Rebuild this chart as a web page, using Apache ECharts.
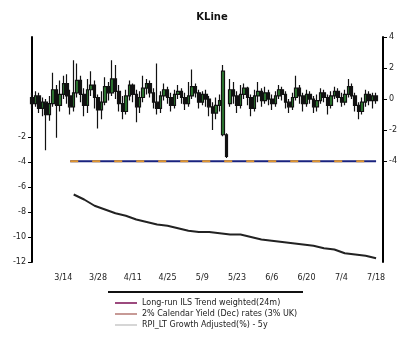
<!DOCTYPE html>
<html>
<head>
<meta charset="utf-8">
<script src="https://cdn.jsdelivr.net/npm/echarts@6/dist/echarts.min.js"></script>
<style>html,body{margin:0;padding:0;background:#fff}#c{width:400px;height:342px}</style>
</head>
<body>
<div id="c"></div>
<script>
const titleText = 'KLine';
const tickLabels = ['3/14','3/28','4/11','4/25','5/9','5/23','6/6','6/20','7/4','7/18'];
const leftTicks = [-2, -4, -6, -8, -10, -12];
const rightTicks = [4, 2, 0, -2, -4];
const seriesNames = ['Long-run ILS Trend weighted(24m)', '2% Calendar Yield (Dec) rates (3% UK)', 'RPI_LT Growth Adjusted(%) - 5y'];

const openV  = [0.1,-0.3,0.2,-0.6,-0.2,-1.0,-0.3,0.6,-0.4,0.3,1.0,0.2,-0.5,0.4,1.2,0.3,-0.4,0.6,0.9,0.1,-0.7,-0.2,0.8,0.4,1.3,0.5,-0.3,-0.8,0.2,0.9,0.3,-0.5,0.1,0.7,1.0,0.4,-0.2,-0.6,0.2,0.6,0.1,-0.4,0.3,0.5,0.1,-0.3,0.2,0.8,0.4,-0.2,0.3,0.0,-0.5,-0.9,-0.4,-2.3,-2.3,-0.3,0.6,0.2,-0.4,0.3,0.7,0.1,-0.6,0.2,0.5,-0.1,0.4,0.0,-0.3,0.2,0.6,0.3,-0.2,-0.5,0.1,0.7,0.2,-0.3,0.3,0.0,-0.5,-0.1,0.4,0.1,-0.4,0.2,0.5,0.1,-0.2,0.3,0.8,0.2,-0.4,-0.8,-0.2,0.3,-0.1,0.2];
const closeV = [-0.3,0.2,-0.6,-0.2,-1.0,-0.3,0.6,-0.4,0.3,1.0,0.2,-0.5,0.4,1.2,0.3,-0.4,0.6,0.9,0.1,-0.7,-0.2,0.8,0.4,1.3,0.5,-0.3,-0.8,0.2,0.9,0.3,-0.5,0.1,0.7,1.0,0.4,-0.2,-0.6,0.2,0.6,0.1,-0.4,0.3,0.5,0.1,-0.3,0.2,0.8,0.4,-0.2,0.3,0.0,-0.5,-0.9,-0.4,-0.1,1.8,-3.7,0.6,0.2,-0.4,0.3,0.7,0.1,-0.6,0.2,0.5,-0.1,0.4,0.0,-0.3,0.2,0.6,0.3,-0.2,-0.5,0.1,0.7,0.2,-0.3,0.3,0.0,-0.5,-0.1,0.4,0.1,-0.4,0.2,0.5,0.1,-0.2,0.3,0.8,0.2,-0.4,-0.8,-0.2,0.3,-0.1,0.2,-0.1];
const lowV   = [-0.6,-0.5,-0.9,-1.1,-3.3,-1.4,-0.5,-2.5,-0.8,0.0,-0.3,-1.0,-0.8,0.1,-0.2,-1.1,-0.9,0.2,-0.6,-1.9,-1.3,-0.4,-0.1,0.2,0.0,-0.8,-1.3,-1.0,-0.1,-0.2,-1.5,-0.9,-0.2,0.3,0.1,-0.6,-1.0,-0.9,-0.1,-0.3,-0.8,-0.6,0.0,-0.3,-0.7,-0.5,0.0,0.1,-0.6,-0.4,-0.5,-1.1,-2.0,-1.3,-0.8,-2.4,-3.8,-0.5,-0.3,-0.9,-0.6,0.0,-0.4,-1.1,-0.8,-0.2,-0.5,-0.3,-0.4,-0.7,-0.5,0.0,-0.1,-0.6,-0.9,-0.7,-0.1,-0.3,-0.8,-0.5,-0.3,-0.9,-0.8,-0.3,-0.2,-1.0,-0.6,0.0,-0.2,-0.5,-0.4,0.1,0.0,-0.8,-1.3,-1.0,-0.5,-0.4,-0.6,-0.3];
const highV  = [0.4,0.5,0.4,0.1,0.0,0.2,1.7,0.9,1.2,1.5,1.6,0.6,2.5,2.3,1.5,0.7,1.3,1.8,1.2,0.3,0.5,1.4,1.1,2.5,2.2,0.9,0.2,0.6,1.2,1.0,0.6,0.5,1.5,1.3,1.2,0.7,2.3,0.5,1.0,0.8,0.4,0.6,0.9,0.7,0.4,1.1,1.9,1.0,0.6,0.5,0.6,0.2,-0.2,0.1,0.3,2.2,-2.2,1.3,1.1,0.5,0.9,1.0,0.8,0.3,0.6,1.1,0.7,0.8,0.6,0.3,0.5,0.9,0.8,0.5,0.0,0.4,1.5,0.9,0.4,0.6,0.5,0.2,0.3,0.7,0.6,0.3,0.5,0.8,0.7,0.4,0.6,1.3,1.0,0.4,-0.2,0.1,0.6,0.5,0.4,0.4];

const flatStart = 11;
const flatVals = [-4,-4,-4,-4,-4,-4,-4,-4,-4,-4,-4,-4,-4,-4,-4,-4,-4,-4,-4,-4,-4,-4,-4,-4,-4,-4,-4,-4,-4,-4,-4,-4,-4,-4,-4,-4,-4,-4,-4,-4,-4,-4,-4,-4,-4,-4,-4,-4,-4,-4,-4,-4,-4,-4,-4,-4,-4,-4,-4,-4,-4,-4,-4,-4,-4,-4,-4,-4,-4,-4,-4,-4,-4,-4,-4,-4,-4,-4,-4,-4,-4,-4,-4,-4,-4,-4,-4,-4,-4];

const trendIdx  = [12,15,18,21,24,27,30,33,36,39,42,45,48,51,54,57,60,63,66,69,72,75,78,81,84,87,90,93,96,99];
const trendVals = [-6.6,-7.0,-7.5,-7.8,-8.1,-8.3,-8.6,-8.8,-9.0,-9.1,-9.3,-9.5,-9.6,-9.6,-9.7,-9.8,-9.8,-10.0,-10.2,-10.3,-10.4,-10.5,-10.6,-10.7,-10.9,-11.0,-11.3,-11.4,-11.5,-11.7];

const N = 102;
const categories = [];
for (let i = 0; i < N; i++) categories.push(String(i));

const candles = openV.map((o, i) => [o, closeV[i], lowV[i], highV[i]]);
const flatData = categories.map((c, i) => (i >= flatStart && i - flatStart < flatVals.length) ? flatVals[i - flatStart] : null);
const trendData = trendIdx.map((x, i) => [x, trendVals[i]]);

const chart = echarts.init(document.getElementById('c'), null, {renderer: 'canvas'});
chart.setOption({
  animation: false,
  backgroundColor: '#fff',
  title: {text: titleText, left: 207, top: 7, textAlign: 'center',
    textStyle: {fontSize: 10, fontWeight: 'bold', color: '#111', fontFamily: 'DejaVu Sans'}},
  grid: {left: 32, right: 15, top: 37, bottom: 80},
  legend: {
    orient: 'vertical', left: 110, top: 294, itemGap: 3, itemWidth: 22, itemHeight: 2,
    icon: 'rect', textStyle: {fontSize: 8, color: '#222', fontFamily: 'DejaVu Sans'},
    data: [
      {name: seriesNames[0], itemStyle: {color: '#9c4a7e'}},
      {name: seriesNames[1], itemStyle: {color: '#c79a96'}},
      {name: seriesNames[2], itemStyle: {color: '#d6d6d6'}}
    ]
  },
  xAxis: {
    type: 'category', data: categories, boundaryGap: false,
    axisLine: {show: false}, axisTick: {show: false},
    axisLabel: {fontSize: 8, color: '#222', margin: 12, fontFamily: 'DejaVu Sans',
      interval: (idx) => idx >= 9 && (idx - 9) % 10 === 0,
      formatter: (v, idx) => tickLabels[(idx - 9) / 10] || ''}
  },
  yAxis: [
    {type: 'value', position: 'left', min: -12, max: 6, interval: 2,
      axisLine: {show: true, lineStyle: {color: '#000', width: 2}},
      axisTick: {show: true, length: 4, customValues: leftTicks, lineStyle: {color: '#000'}},
      axisLabel: {fontSize: 8, color: '#222', margin: 6, customValues: leftTicks, fontFamily: 'DejaVu Sans'},
      splitLine: {show: false}},
    {type: 'value', position: 'right', min: -10.5, max: 4,
      axisLine: {show: true, lineStyle: {color: '#000', width: 2}},
      axisTick: {show: true, length: 4, customValues: rightTicks, lineStyle: {color: '#000'}},
      axisLabel: {fontSize: 8, color: '#222', margin: 6, customValues: rightTicks, fontFamily: 'DejaVu Sans'},
      splitLine: {show: false}}
  ],
  series: [
    {type: 'candlestick', name: 'ohlc', yAxisIndex: 1, data: candles, barWidth: 3,
      itemStyle: {color: '#2e7d32', color0: '#111111', borderColor: '#111111', borderColor0: '#111111', borderWidth: 1.2}},
    {type: 'line', name: seriesNames[0], yAxisIndex: 1, data: flatData, showSymbol: false,
      lineStyle: {color: '#1a237e', width: 2}, itemStyle: {color: '#1a237e'}},
    {type: 'line', name: seriesNames[1], yAxisIndex: 1, data: flatData, showSymbol: false,
      lineStyle: {color: '#e0952e', width: 2, type: [8, 14]}, itemStyle: {color: '#e0952e'}},
    {type: 'line', name: seriesNames[2], yAxisIndex: 0, data: trendData, showSymbol: false,
      lineStyle: {color: '#222', width: 2}, itemStyle: {color: '#222'}}
  ],
  graphic: [
    {type: 'line', shape: {x1: 108, y1: 292, x2: 303, y2: 292}, style: {stroke: '#111', lineWidth: 2}}
  ]
});
</script>
</body>
</html>
